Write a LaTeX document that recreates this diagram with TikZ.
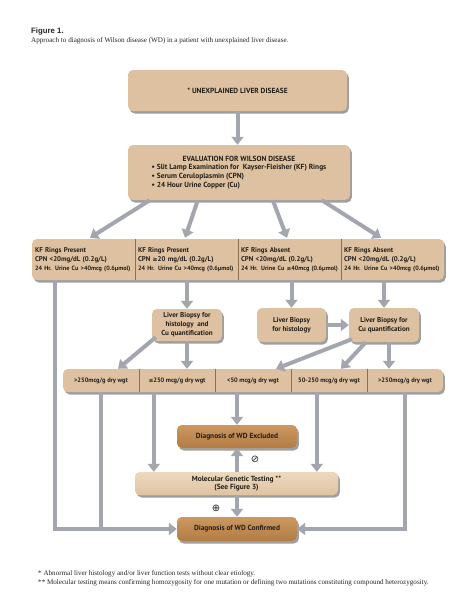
\documentclass[tikz,border=0pt]{standalone}
\usepackage{fontspec}
\setmainfont{PT Sans}
\newfontfamily\capserif{Liberation Serif}
\newfontfamily\capsans{Liberation Sans}
\newfontfamily\symf{DejaVu Sans}
\usetikzlibrary{shadows,calc,arrows.meta}
\definecolor{tan}{RGB}{221,193,160}
\definecolor{tanlight}{RGB}{238,217,190}
\definecolor{tanmid}{RGB}{222,195,160}
\definecolor{browntop}{RGB}{204,152,96}
\definecolor{brownbot}{RGB}{178,124,68}
\definecolor{divider}{RGB}{140,110,80}
\definecolor{arrowgray}{RGB}{163,166,174}
\definecolor{txt}{RGB}{35,30,25}
\begin{document}
\begin{tikzpicture}[x=1pt,y=-1pt,
  shad/.style={drop shadow={shadow xshift=1.8pt, shadow yshift=-2.5pt, opacity=0.5, fill=black!75}},
  box/.style={rectangle, rounded corners=5pt, fill=tan, inner sep=0pt, text=txt, shad,
    font=\bfseries\fontsize{7.4}{9}\selectfont, align=center},
  biop/.style={box, font=\bfseries\fontsize{7.1}{9}\selectfont},
  brownbox/.style={box, top color=browntop, bottom color=brownbot},
  molbox/.style={box, top color=tanlight, bottom color=tanmid},
  cell/.style={rectangle, inner ysep=0pt, inner xsep=3pt, text=txt, minimum width=103pt, minimum height=41pt,
    text width=97pt, align=left, font=\bfseries\fontsize{6.9}{8.8}\selectfont},
  cellb/.style={rectangle, inner sep=0pt, text=txt, minimum width=76pt, minimum height=23pt,
    align=center, font=\bfseries\fontsize{6.4}{7}\selectfont},
  divline/.style={draw=divider, line width=0.6pt},
  conn/.style={draw=arrowgray, line width=4pt},
  arr/.style={conn, -{Triangle[width=12pt,length=8pt]}},
  capfont/.style={text=black!85, inner sep=0pt}
]
\useasboundingbox[fill=white] (0,0) rectangle (474,613);

% caption
\node[capfont, anchor=base west, font=\capsans\bfseries\fontsize{7.8}{9}\selectfont] (fig) at (31,33.5) {Figure 1.};
\node[capfont, anchor=base west, font=\capserif\fontsize{7.1}{8}\selectfont] (cap) at (31,42.5) {Approach to diagnosis of Wilson disease (WD) in a patient with unexplained liver disease.};

% top boxes
\node[box, minimum width=219pt, minimum height=41pt] (top) at (237.5,90.5) {* UNEXPLAINED LIVER DISEASE};
\node[box, minimum width=222pt, minimum height=55pt, font=\bfseries\fontsize{7.4}{8.8}\selectfont] (eval) at (239,172.5)
  {\begin{tabular}{@{}l@{}}\multicolumn{1}{@{}c@{}}{EVALUATION FOR WILSON DISEASE}\\
   • Slit Lamp Examination for~~Kayser-Fleisher (KF) Rings\\
   • Serum Ceruloplasmin (CPN)\\
   • 24 Hour Urine Copper (Cu)\end{tabular}};

% row 1
\node[box, minimum width=412pt, minimum height=41pt] (row1) at (238,259.5) {};
\node[cell] (c1) at (83.5,259.5) {KF Rings Present\\CPN <20mg/dL (0.2g/L)\\{\fontsize{6.2}{8.8}\selectfont 24 Hr. Urine Cu >40mcg (0.6µmol)}};
\node[cell] (c2) at (186.5,259.5) {KF Rings Present\\CPN {\symf\fontsize{6}{8.8}\selectfont ≥}20 mg/dL (0.2g/L)\\{\fontsize{6.2}{8.8}\selectfont 24 Hr. Urine Cu >40mcg (0.6µmol)}};
\node[cell] (c3) at (289.5,259.5) {KF Rings Absent\\CPN <20mg/dL (0.2g/L)\\{\fontsize{6.2}{8.8}\selectfont 24 Hr. Urine Cu {\symf\fontsize{5.6}{8.8}\selectfont ≤}40mcg (0.6µmol)}};
\node[cell] (c4) at (392.5,259.5) {KF Rings Absent\\CPN <20mg/dL (0.2g/L)\\{\fontsize{6.2}{8.8}\selectfont 24 Hr. Urine Cu >40mcg (0.6µmol)}};
\draw[divline] (c1.north east) -- (c1.south east);
\draw[divline] (c2.north east) -- (c2.south east);
\draw[divline] (c3.north east) -- (c3.south east);

% biopsies
\node[biop, minimum width=70pt, minimum height=32pt] (b1) at (187,325) {Liver Biopsy for\\histology~~and\\Cu quantification};
\node[biop, minimum width=69pt, minimum height=34pt] (b2) at (291.5,325) {Liver Biopsy\\for histology};
\node[biop, minimum width=70pt, minimum height=34pt] (b3) at (384,325) {Liver Biopsy for\\Cu quantification};

% row 2
\node[box, minimum width=380pt, minimum height=23pt] (row2) at (253,380.5) {};
\node[cellb] (d1) at (101,380.5) {>250mcg/g dry wgt};
\node[cellb] (d2) at (177,380.5) {{\symf\fontsize{5.8}{7}\selectfont ≤}250 mcg/g dry wgt};
\node[cellb] (d3) at (253,380.5) {<50 mcg/g dry wgt};
\node[cellb] (d4) at (329,380.5) {50-250 mcg/g dry wgt};
\node[cellb] (d5) at (405,380.5) {>250mcg/g dry wgt};
\draw[divline] (d1.north east) -- (d1.south east);
\draw[divline] (d2.north east) -- (d2.south east);
\draw[divline] (d3.north east) -- (d3.south east);
\draw[divline] (d4.north east) -- (d4.south east);

% outcome boxes
\node[brownbox, minimum width=120pt, minimum height=23pt] (excl) at (237,436.5) {Diagnosis of WD Excluded};
\node[molbox, minimum width=203pt, minimum height=23pt] (mol) at (236.5,483.5) {Molecular Genetic Testing **\\[-1.5pt](See Figure 3)};
\node[brownbox, minimum width=120pt, minimum height=24pt] (conf) at (237,529) {Diagnosis of WD Confirmed};

% connectors
\draw[arr] (top.south) -- (top.south |- eval.north);
\draw[arr] ($(eval.south west)+(22,0)$) -- ($(c1.north)+(6.5,-1)$);
\draw[arr] ($(eval.south west)+(70,0)$) -- ($(c2.north)+(-1.5,-1)$);
\draw[arr] ($(eval.south west)+(145,0)$) -- ($(c3.north)+(-2.5,-1)$);
\draw[arr] ($(eval.south west)+(194,0)$) -- ($(c4.north)+(-11.5,-1)$);

\draw[arr] (b1.north |- c2.south) -- (b1.north);
\draw[arr] (b2.north |- c3.south) -- (b2.north);
\draw[arr] (b3.north |- c4.south) -- (b3.north);
\draw[arr] (b2.east) -- (b3.west);

\draw[arr] ($(b1.south west)+(4,-4)$) -- ($(d1.north)+(17,0)$);
\draw[arr] (b1.south) -- (b1.south |- d2.north);
\draw[arr] ($(b3.south west)+(3,-3)$) -- ($(d3.north)+(23,0)$);
\draw[arr] ($(b3.south west)+(17,0)$) -- ($(d4.north)+(12,0)$);
\coordinate (b3r) at ($(b3.south)+(5,0)$);
\draw[arr] (b3r) -- (b3r |- d5.north);

\draw[arr] ($(c1.south west)+(23,0)$) |- (conf.west);
\draw[conn] (d1.south) -- (d1.south |- conf.west);
\coordinate (d2l) at ($(d2.south west)+(15,0)$);
\draw[arr] (d2l) -- (d2l |- mol.north);
\draw[arr] (excl.north |- d3.south) -- (excl.north);
\coordinate (d4l) at ($(d4.south west)+(26,0)$);
\draw[arr] (d4l) -- (d4l |- mol.north);
\draw[arr] (d5.south) |- (conf.east);
\draw[arr] (mol.north -| excl.south) -- (excl.south);
\draw[arr] (mol.south -| conf.north) -- (conf.north);

\node[text=txt, inner sep=0pt, font=\symf\fontsize{10}{10}\selectfont] (nosym) at (255,459) {⊘};
\node[text=txt, inner sep=0pt, font=\symf\fontsize{10}{10}\selectfont] (plussym) at (216,508) {⊕};

% footnotes
\node[capfont, anchor=base west, font=\capserif\fontsize{7.1}{8}\selectfont] (fn1) at (38,575) {* Abnormal liver histology and/or liver function tests without clear etiology.};
\node[capfont, anchor=base west, font=\capserif\fontsize{7.1}{8}\selectfont] (fn2) at (38,584) {** Molecular testing means confirming homozygosity for one mutation or defining two mutations constituting compound heterozygosity.};
\end{tikzpicture}
\end{document}
